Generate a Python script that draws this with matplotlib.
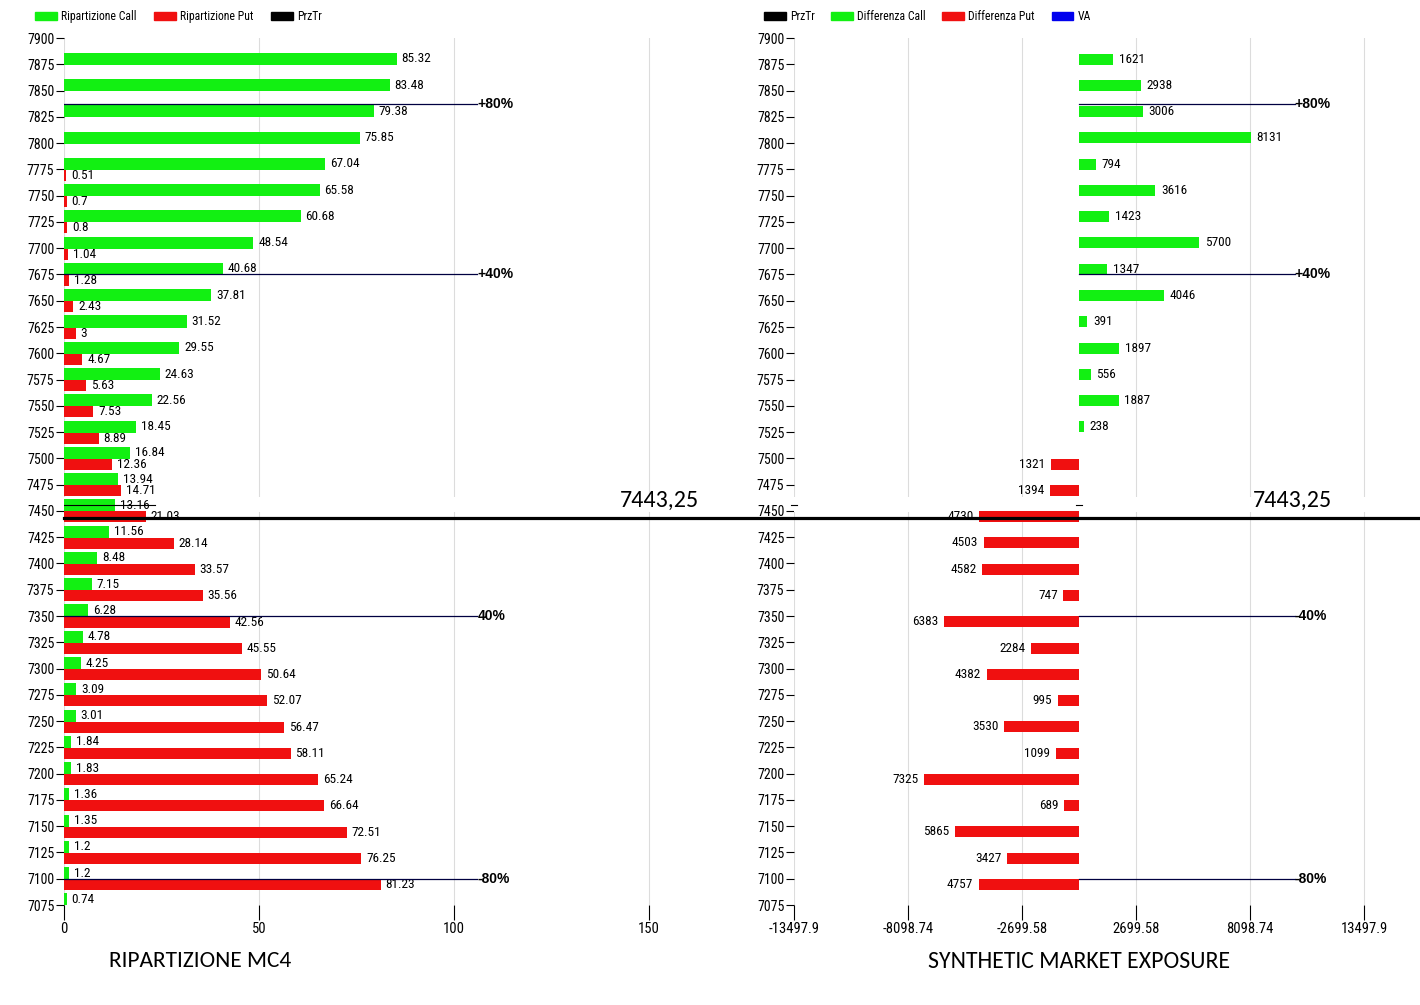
import matplotlib
matplotlib.use('Agg')
import matplotlib.pyplot as plt
from matplotlib.patches import Patch
from matplotlib.lines import Line2D
from matplotlib.transforms import blended_transform_factory

# ---------------- data ----------------
strikes = [7900, 7875, 7850, 7825, 7800, 7775, 7750, 7725, 7700, 7675, 7650,
           7625, 7600, 7575, 7550, 7525, 7500, 7475, 7450, 7425, 7400, 7375,
           7350, 7325, 7300, 7275, 7250, 7225, 7200, 7175, 7150, 7125, 7100, 7075]

call_pct = [None, 85.32, 83.48, 79.38, 75.85, 67.04, 65.58, 60.68, 48.54, 40.68, 37.81,
            31.52, 29.55, 24.63, 22.56, 18.45, 16.84, 13.94, 13.16, 11.56, 8.48, 7.15,
            6.28, 4.78, 4.25, 3.09, 3.01, 1.84, 1.83, 1.36, 1.35, 1.2, 1.2, 0.74]

put_pct = [None, None, None, None, None, 0.51, 0.7, 0.8, 1.04, 1.28, 2.43,
           3, 4.67, 5.63, 7.53, 8.89, 12.36, 14.71, 21.03, 28.14, 33.57, 35.56,
           42.56, 45.55, 50.64, 52.07, 56.47, 58.11, 65.24, 66.64, 72.51, 76.25, 81.23, None]

diff = [None, 1621, 2938, 3006, 8131, 794, 3616, 1423, 5700, 1347, 4046,
        391, 1897, 556, 1887, 238, -1321, -1394, -4730, -4503, -4582, -747,
        -6383, -2284, -4382, -995, -3530, -1099, -7325, -689, -5865, -3427, -4757, None]

prz_tr = 7443.25
prz_tr_label = '7443,25'
prz_marker_strike = 7450
prz_marker_len_left = 23.3

pct_levels = [7837.5, 7675, 7350, 7100]
pct_labels_left = ['+80%', '+40%', '40%', '-80%']
pct_labels_right = ['+80%', '+40%', '-40%', '-80%']
pct_end_left = 106
pct_end_right = 10213

left_xticks = [0, 50, 100, 150]
right_xticks = [-13497.9, -8098.74, -2699.58, 2699.58, 8098.74, 13497.9]
right_xticklabels = ['-13497.9', '-8098.74', '-2699.58', '2699.58', '8098.74', '13497.9']

GREEN = '#12f012'
RED = '#f01010'
NAVY = '#000040'

NARROW = ['Roboto Condensed', 'Archivo Narrow', 'DejaVu Sans']
TITLEF = ['Carlito', 'Lato', 'DejaVu Sans']
PCTF = ['Liberation Sans', 'DejaVu Sans']

W, H = 1420, 1005
fig = plt.figure(figsize=(W / 100, H / 100), dpi=100)
fig.patch.set_facecolor('white')

def px_box(x0, x1, ytop, ybot):
    return [x0 / W, 1 - ybot / H, (x1 - x0) / W, (ybot - ytop) / H]

ax1 = fig.add_axes(px_box(64, 730, 38, 905))
ax2 = fig.add_axes(px_box(794, 1420, 38, 905))

for ax in (ax1, ax2):
    for sp in ax.spines.values():
        sp.set_visible(False)
    ax.set_ylim(7075, 7900)
    ax.set_yticks(strikes)
    ax.set_yticklabels([str(s) for s in strikes], fontfamily=NARROW, fontsize=10)
    ax.tick_params(axis='y', length=6, width=0.8, pad=1)
    ax.tick_params(axis='x', length=11, width=0.8, pad=1, labelsize=10.5)
    ax.set_axisbelow(True)
    ax.grid(axis='x', color='#dcdcdc', lw=0.8)
    ax.axhspan(prz_marker_strike - 1, prz_marker_strike + 13, color='white', lw=0, zorder=0.8)

# ---- left chart ----
ax1.set_xlim(0, 170.8)
ax1.set_xticks(left_xticks)
ax1.set_xticklabels([str(t) for t in left_xticks], fontfamily=NARROW)

for s, c, p in zip(strikes, call_pct, put_pct):
    if c is not None:
        ax1.barh(s + 5.25, c, height=11.5, color=GREEN, zorder=2)
        ax1.annotate('%g' % c, (c, s + 5.25), xytext=(3.5, 0), textcoords='offset points',
                     ha='left', va='center', fontsize=9.5, fontfamily=NARROW)
    if p is not None:
        ax1.barh(s - 5.75, p, height=10.5, color=RED, zorder=2)
        ax1.annotate('%g' % p, (p, s - 5.75), xytext=(3.5, 0), textcoords='offset points',
                     ha='left', va='center', fontsize=9.5, fontfamily=NARROW)

ax1.plot([0, prz_marker_len_left], [prz_marker_strike + 6, prz_marker_strike + 6],
         color='black', lw=0.8, zorder=3)

for lvl, lab in zip(pct_levels, pct_labels_left):
    ax1.plot([0, pct_end_left], [lvl, lvl], color=NAVY, lw=0.9, zorder=3)
    ax1.text(pct_end_left, lvl, lab, ha='left', va='center', fontsize=10,
             fontweight='bold', fontfamily=PCTF, zorder=4)

ax1.text(152.8, prz_tr + 17, prz_tr_label, ha='center', va='center', fontsize=17.3,
         fontfamily=TITLEF)

# ---- right chart ----
ax2.set_xlim(-13497.9, 16146)
ax2.set_xticks(right_xticks)
ax2.set_xticklabels(right_xticklabels, fontfamily=NARROW)

for s, d in zip(strikes, diff):
    if d is None:
        continue
    if d >= 0:
        ax2.barh(s + 5, d, height=10.5, color=GREEN, zorder=2)
        ax2.annotate('%d' % abs(d), (d, s + 5), xytext=(4, 0), textcoords='offset points',
                     ha='left', va='center', fontsize=9.5, fontfamily=NARROW)
    else:
        ax2.barh(s - 5.5, d, height=10.5, color=RED, zorder=2)
        ax2.annotate('%d' % abs(d), (d, s - 5.5), xytext=(-4, 0), textcoords='offset points',
                     ha='right', va='center', fontsize=9.5, fontfamily=NARROW)

for x0 in (-13497.9, 0):
    ax2.plot([x0 - 140, x0 + 140], [prz_marker_strike + 6] * 2, color='black', lw=0.8,
             zorder=3, clip_on=False)

for lvl, lab in zip(pct_levels, pct_labels_right):
    ax2.plot([0, pct_end_right], [lvl, lvl], color=NAVY, lw=0.9, zorder=3)
    ax2.text(pct_end_right, lvl, lab, ha='left', va='center', fontsize=10,
             fontweight='bold', fontfamily=PCTF, zorder=4)

ax2.text(10085, prz_tr + 17, prz_tr_label, ha='center', va='center', fontsize=17.3,
         fontfamily=TITLEF)

# ---- price line across the figure ----
tr = blended_transform_factory(fig.transFigure, ax1.transData)
fig.add_artist(Line2D([64 / W, 1.0], [prz_tr, prz_tr], transform=tr, color='black', lw=2.3))

# ---- legends ----
h1 = [Patch(color=GREEN), Patch(color=RED), Patch(color='black')]
l1 = ['Ripartizione Call', 'Ripartizione Put', 'PrzTr']
fig.legend(h1, l1, loc='upper left', bbox_to_anchor=(35 / W, 1 - 10 / H), ncol=3,
           frameon=False, prop={'family': NARROW, 'size': 8.5}, handlelength=1.85,
           handleheight=0.6, handletextpad=0.35, columnspacing=1.5,
           borderpad=0, borderaxespad=0)
h2 = [Patch(color='black'), Patch(color=GREEN), Patch(color=RED), Patch(color='#0000ee')]
l2 = ['PrzTr', 'Differenza Call', 'Differenza Put', 'VA']
fig.legend(h2, l2, loc='upper left', bbox_to_anchor=(764 / W, 1 - 10 / H), ncol=4,
           frameon=False, prop={'family': NARROW, 'size': 8.5}, handlelength=1.85,
           handleheight=0.6, handletextpad=0.35, columnspacing=1.4,
           borderpad=0, borderaxespad=0)

# ---- titles ----
fig.text(200 / W, 1 - 961 / H, 'RIPARTIZIONE MC4', ha='center', va='center',
         fontsize=16.8, fontfamily=TITLEF)
fig.text(1079 / W, 1 - 961 / H, 'SYNTHETIC MARKET EXPOSURE', ha='center', va='center',
         fontsize=17.1, fontfamily=TITLEF)

fig.savefig('out.png', dpi=100, facecolor='white')
